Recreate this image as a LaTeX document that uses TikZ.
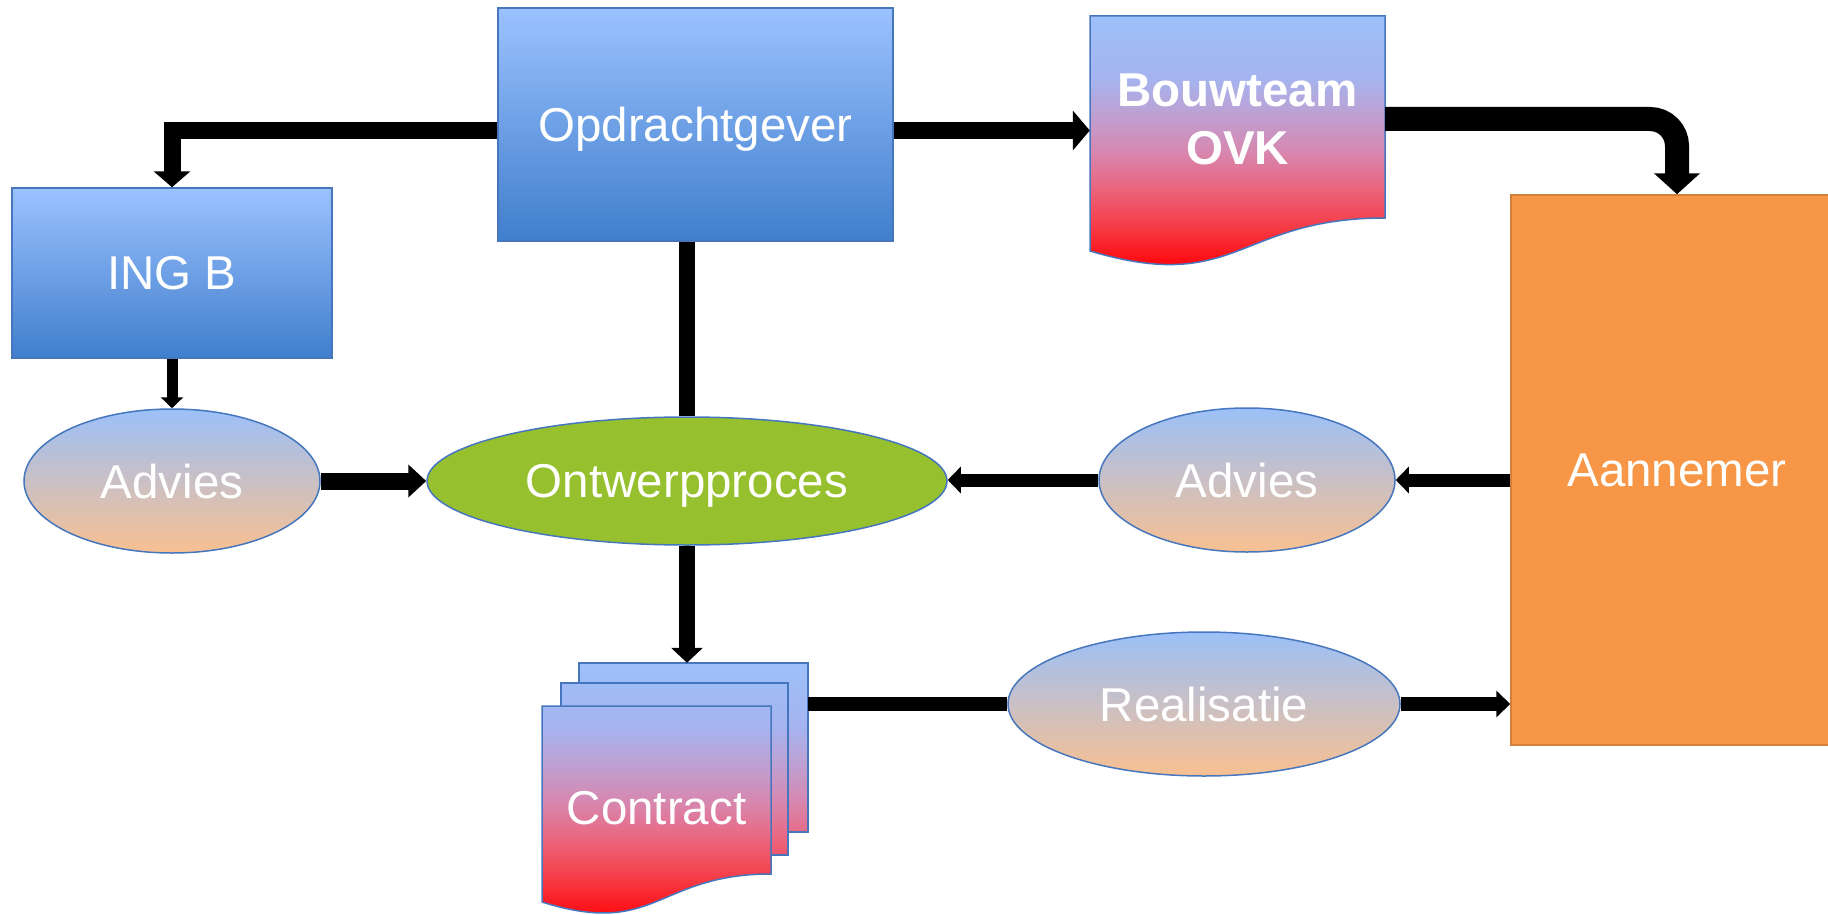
\documentclass[tikz,border=0pt]{standalone}
\usepackage{fontspec}
\setmainfont{Liberation Sans}
\usepackage{tikz}
\usetikzlibrary{arrows.meta,shapes.geometric}

\definecolor{boxtop}{RGB}{155,194,255}
\definecolor{boxbot}{RGB}{64,126,204}
\definecolor{advtop}{RGB}{155,192,248}
\definecolor{advbot}{RGB}{248,192,145}
\definecolor{ontgreen}{RGB}{150,192,45}
\definecolor{annorange}{RGB}{247,150,70}
\definecolor{rimblue}{RGB}{70,118,190}
\definecolor{docA}{RGB}{157,192,250}
\definecolor{docB}{RGB}{165,180,240}
\definecolor{docC}{RGB}{190,160,210}
\definecolor{docD}{RGB}{215,135,175}
\definecolor{docE}{RGB}{235,100,125}
\definecolor{docF}{RGB}{245,60,70}
\definecolor{docG}{RGB}{255,10,15}

% blue to red fill of the document shapes
\pgfdeclareverticalshading{docshade}{100bp}{
  color(0bp)=(docG); color(25bp)=(docG);
  color(32.5bp)=(docF); color(40bp)=(docE);
  color(47.5bp)=(docD); color(55bp)=(docC);
  color(62.5bp)=(docB); color(75bp)=(docA);
  color(100bp)=(docA)}

\tikzset{blue box/.style={rectangle,draw=rimblue,line width=1.5pt,top color=boxtop,bottom color=boxbot,text=white,inner sep=0pt},
  advice/.style={ellipse,draw=rimblue,line width=1.5pt,top color=advtop,bottom color=advbot,text=white,inner sep=0pt,minimum width=296pt,minimum height=144pt},
  page/.style={draw=rimblue,line width=1.5pt}}

\begin{document}
\begin{tikzpicture}[x=1pt,y=-1pt,font=\fontsize{47.5}{58}\selectfont,every node/.style={text depth=0pt}]
\useasboundingbox (0,0) rectangle (1828,915);
\clip (0,0) rectangle (1828,915);

\node[blue box,minimum width=395pt,minimum height=233pt] (opd) at (695.5,124.5) {Opdrachtgever};
\node[blue box,minimum width=320pt,minimum height=170pt] (ingb) at (172,273) {ING B};
\node[rectangle,draw=annorange!85!black,line width=1.5pt,fill=annorange,text=white,minimum width=332pt,minimum height=550pt] (ann) at (1677,470) {Aannemer};

% bouwteam document
\begin{scope}
\clip (1090,16) -- (1385,16) -- (1385,218) .. controls (1237.5,218) and (1237.5,295) .. (1090,251) -- cycle;
\shade[shading=docshade] (1090,16) rectangle (1385,263);
\end{scope}
\draw[page] (1090,16) -- (1385,16) -- (1385,218) .. controls (1237.5,218) and (1237.5,295) .. (1090,251) -- cycle;
\node[text=white,font=\fontsize{47.5}{58}\selectfont\bfseries,align=center,minimum width=295pt,minimum height=210pt] (ovk) at (1237.5,119) {Bouwteam\\OVK};

\node[advice] (adv1) at (172,481) {Advies};
\node[ellipse,draw=rimblue,line width=1.5pt,fill=ontgreen,text=white,inner sep=0pt,minimum width=520pt,minimum height=128pt] (ontw) at (687,481) {Ontwerpproces};
\node[advice] (adv2) at (1247,480) {Advies};
\node[advice,minimum width=392pt] (real) at (1204,704) {Realisatie};

% contract stack
\node[minimum width=229pt,minimum height=169pt] (ctrback) at (693.5,747.5) {};
\foreach \xa/\ya/\xb/\yb in {579/663/808/832, 561/683/788/855}
  {
    \begin{scope}
    \clip (\xa,\ya) rectangle (\xb,\yb);
    \shade[shading=docshade] (542,663) rectangle (808,916);
    \end{scope}
    \draw[page] (\xa,\ya) rectangle (\xb,\yb);
  }
\begin{scope}
\clip (542,706) -- (771,706) -- (771,874) .. controls (656.5,874) and (656.5,938) .. (542,902) -- cycle;
\shade[shading=docshade] (542,663) rectangle (808,916);
\end{scope}
\draw[page] (542,706) -- (771,706) -- (771,874) .. controls (656.5,874) and (656.5,938) .. (542,902) -- cycle;
\node[text=white] (ctr) at (656.5,808) {Contract};

\draw[line width=17pt,-{Triangle[width=36pt,length=16pt]}] ([yshift=-6pt]opd.west) -| (ingb.north);
\draw[line width=17pt,-{Triangle[width=39pt,length=17pt]}] ([yshift=-6pt]opd.east) -- ([yshift=-6pt]opd.east -| ovk.west);
\draw[line width=24pt,rounded corners=27pt,-{Triangle[width=45pt,length=21pt]}] (ovk.east) -| (ann.north);
\draw[line width=16pt] (ontw.north |- opd.south) -- (ontw.north);
\draw[line width=16pt,-{Triangle[width=31pt,length=15pt]}] (ontw.south) -- (ontw.south |- ctrback.north);
\draw[line width=11pt,-{Triangle[width=22pt,length=11pt]}] (ingb.south) -- (adv1.north);
\draw[line width=17pt,-{Triangle[width=32pt,length=18pt]}] (adv1.east) -- (ontw.west);
\draw[line width=13pt,-{Triangle[width=26pt,length=13pt]}] (adv2.east -| ann.west) -- (adv2.east);
\draw[line width=13pt,-{Triangle[width=26pt,length=13pt]}] (adv2.west) -- (adv2.west -| ontw.east);
\draw[line width=14pt] (real.west -| ctrback.east) -- (real.west);
\draw[line width=14pt,-{Triangle[width=26pt,length=14pt]}] (real.east) -- (real.east -| ann.west);
\end{tikzpicture}
\end{document}
